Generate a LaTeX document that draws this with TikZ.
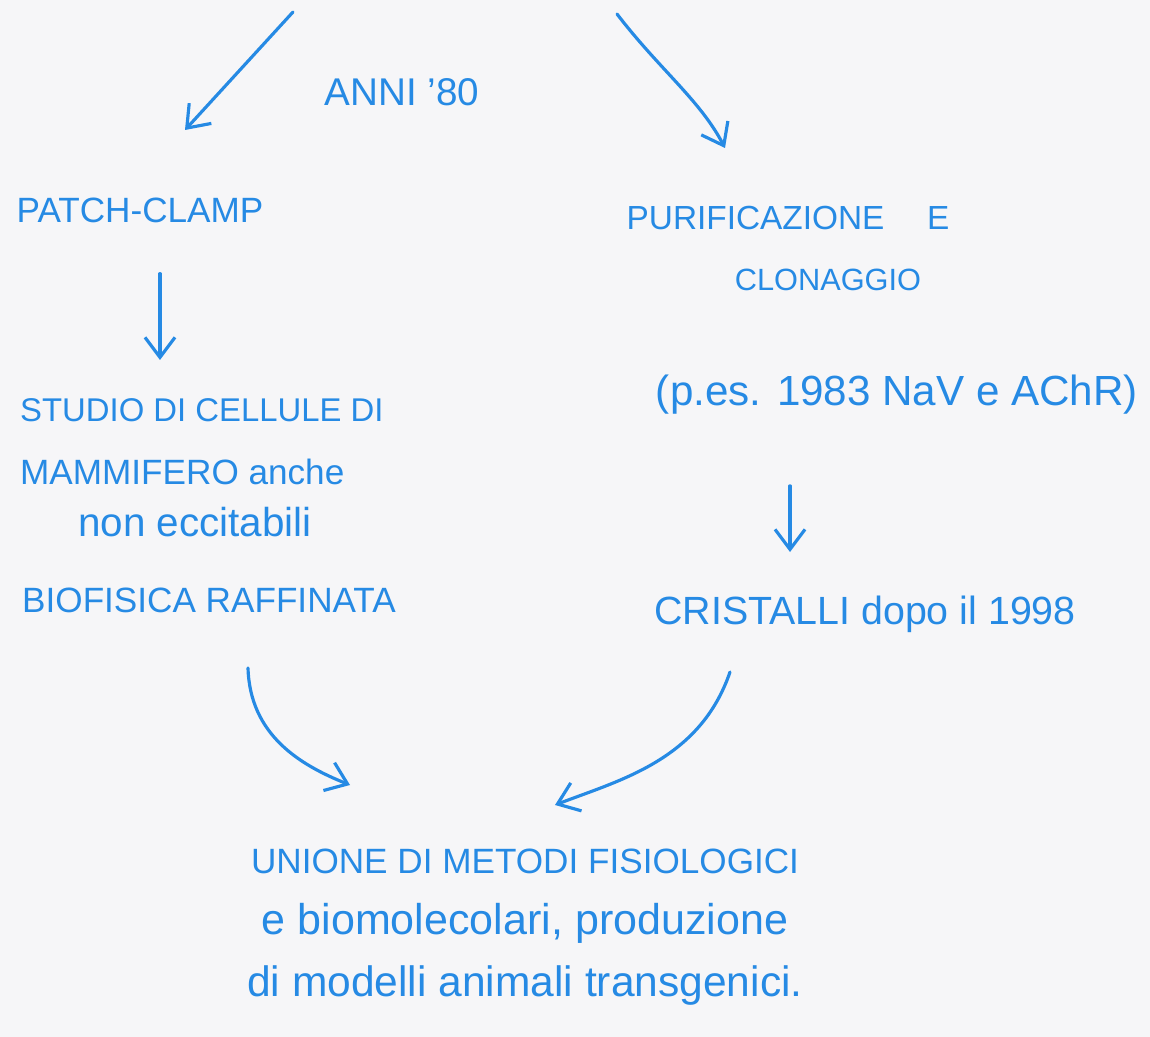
\documentclass[tikz,border=0pt]{standalone}
\usepackage{fontspec}
\setmainfont{Liberation Sans}
\usetikzlibrary{arrows.meta}
\definecolor{ink}{RGB}{38,138,228}
\definecolor{paper}{RGB}{246,246,248}
\newcommand{\fs}[1]{\fontsize{#1}{35}\selectfont}
\begin{document}
\begin{tikzpicture}[x=0.02cm,y=-0.02cm,
    every node/.style={text=ink,font=\fs{20}},
    pen/.style={draw=ink,line width=1.8pt,line cap=round,-{Straight Barb[length=4mm,width=6mm]}}]
  \fill[paper] (0,0) rectangle (1150,1037);
  \draw
    (402,92) node[font=\fs{22}] (anni){ANNI '80}
    (140,210) node (patch){PATCH-CLAMP}
    (14,410) node[anchor=west,font=\fs{18.7}] (studio){STUDIO DI CELLULE DI}
    (14,472) node[anchor=west] (mammifero){MAMMIFERO anche}
    (72,522) node[anchor=west,font=\fs{23}] (eccitabili){non eccitabili}
    (16,600) node[anchor=west] (biofisica){BIOFISICA RAFFINATA}
    (788,218) node[font=\fs{19}] (purif){PURIFICAZIONE \quad E}
    (828,280) node[font=\fs{17.5}] (clonaggio){CLONAGGIO}
    (897,395) node[font=\fs{24}] (es){(p.es. 1983 NaV e AChR)}
    (865,614) node[font=\fs{22.4}] (cristalli){CRISTALLI dopo il 1998}
    (525,927) node[align=center] (unione)
      {UNIONE DI METODI FISIOLOGICI\\{\fs{24.5}e biomolecolari, produzione}\\{\fs{24.2}di modelli animali transgenici.}};
  \coordinate (topl) at (293,12);
  \coordinate (topr) at (617,14);
  \coordinate (bfout) at (248,668);
  \coordinate (crout) at (730,672);
  \begin{scope}
    \draw[pen] (topl) -- (185,130);
    \draw[pen] (topr) .. controls (660,70) and (700,100) .. (725,148);
    \draw[pen] ([xshift=0.4cm,yshift=-0.9cm]patch.south) -- ([xshift=0.4cm]patch.south |- 0,360);
    \draw[pen] ([xshift=-2.14cm,yshift=-1.3cm]es.south) -- ([xshift=-2.14cm]es.south |- 0,552);
    \draw[pen] (bfout) .. controls (250,735) and (300,765) .. (350,785);
    \draw[pen] (crout) .. controls (700,760) and (620,780) .. (555,805);
  \end{scope}
\end{tikzpicture}
\end{document}
